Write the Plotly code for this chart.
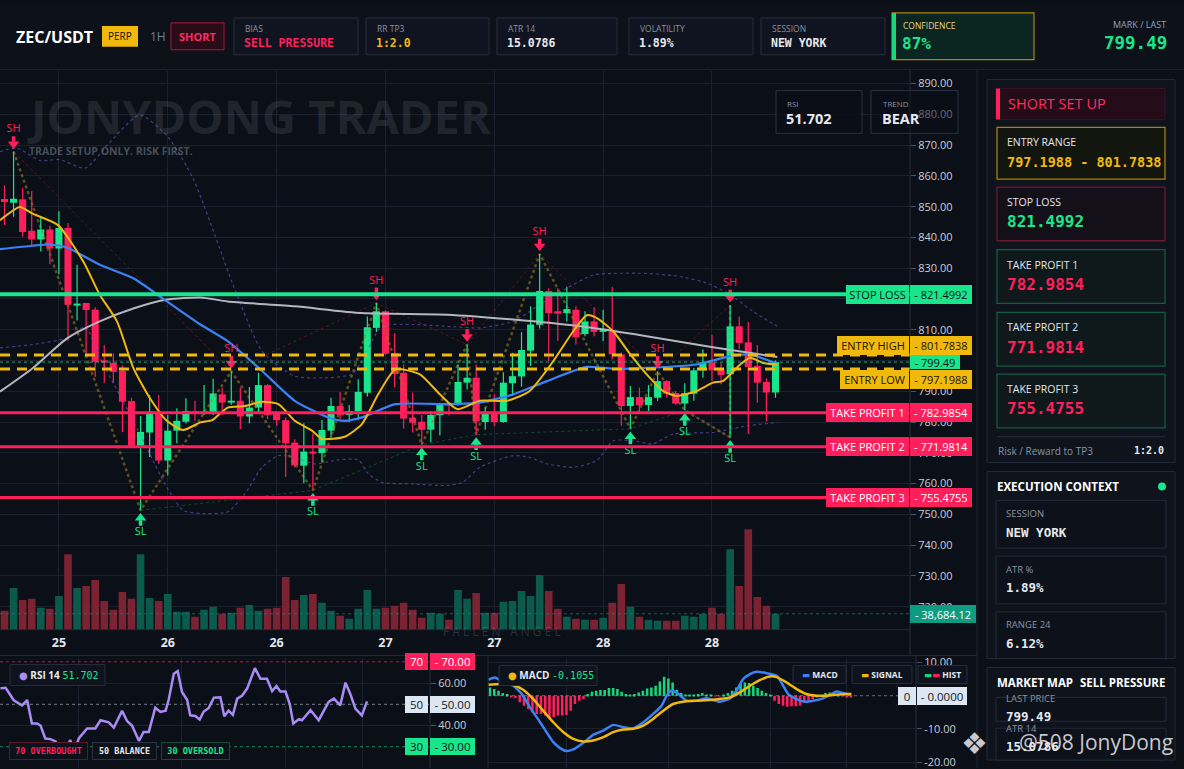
import plotly.graph_objects as go

W, H = 1184, 769

# ---------------- data ----------------
tick_idx = [6, 18, 30, 42, 54, 66, 78]
tick_text = ["25", "26", "26", "27", "27", "28", "28"]
sub_grid = [18, 42, 66, 84]

opens = [852.5, 851.3, 852.4, 842.2, 839.3, 842.6, 836.4, 843.1, 818.0, 818.7,
         816.5, 800.0, 799.2, 796.6, 786.8, 772.3, 776.6, 783.3, 767.5, 777.2,
         780.1, 783.6, 782.8, 782.8, 789.0, 786.3, 786.9, 781.8, 784.7, 792.0,
         782.8, 780.6, 773.3, 765.8, 770.4, 769.9, 777.2, 785.2, 782.3, 783.5,
         789.5, 810.6, 816.0, 802.4, 796.0, 781.4, 780.1, 777.5, 782.2, 786.1,
         785.6, 792.8, 794.4, 780.0, 783.3, 780.0, 792.6, 794.8, 803.2, 811.6,
         822.6, 816.0, 815.4, 816.5, 808.6, 812.7, 809.3, 809.5, 802.0, 785.2,
         788.1, 785.5, 787.9, 793.3, 789.4, 786.0, 789.2, 796.8, 799.4, 796.9,
         795.5, 811.1, 805.9, 798.2, 793.0, 789.6]
highs = [856.9, 867.9, 856.1, 855.1, 846.4, 843.8, 848.5, 844.7, 831.1, 818.7,
         817.3, 805.0, 802.3, 798.4, 787.9, 782.0, 788.8, 788.8, 782.3, 784.5,
         787.7, 786.9, 792.0, 794.1, 791.2, 796.5, 791.2, 791.4, 796.0, 792.3,
         783.1, 781.5, 774.4, 779.6, 776.3, 780.7, 787.9, 789.8, 785.5, 793.9,
         814.3, 818.7, 816.3, 808.9, 798.7, 789.6, 782.3, 783.6, 786.3, 786.3,
         798.7, 805.2, 798.7, 784.7, 789.0, 796.2, 802.5, 809.2, 817.6, 834.6,
         823.5, 823.5, 824.0, 817.6, 816.0, 817.3, 816.5, 824.0, 802.6, 791.7,
         791.2, 792.0, 796.5, 793.6, 790.1, 792.6, 797.6, 803.6, 808.4, 799.2,
         818.0, 814.3, 812.5, 805.0, 794.2, 800.0]
lows = [844.0, 846.7, 840.2, 837.0, 835.4, 831.3, 828.0, 806.5, 813.0, 802.0,
        794.6, 792.8, 792.8, 776.7, 771.8, 751.3, 768.6, 766.4, 762.6, 773.1,
        779.5, 780.4, 782.3, 782.3, 782.3, 785.6, 777.7, 779.6, 782.6, 780.9,
        778.8, 762.1, 765.3, 760.1, 757.8, 767.0, 775.0, 780.9, 779.9, 780.6,
        788.3, 809.3, 801.8, 791.2, 777.9, 776.6, 772.6, 773.4, 775.6, 782.2,
        785.3, 790.6, 775.9, 777.5, 778.6, 779.8, 788.5, 791.5, 798.2, 810.4,
        799.8, 806.3, 812.7, 805.2, 807.9, 807.9, 806.3, 800.3, 778.8, 777.8,
        783.1, 783.6, 786.9, 787.9, 785.6, 783.8, 786.9, 794.4, 793.3, 792.3,
        775.0, 803.6, 776.1, 786.3, 780.2, 787.9]
closes = [851.5, 852.6, 841.8, 839.3, 842.6, 836.4, 843.1, 818.1, 818.5, 816.4,
          799.6, 799.5, 796.3, 786.6, 772.3, 776.8, 783.3, 767.5, 777.2, 780.4,
          783.6, 782.8, 783.1, 789.3, 786.3, 786.9, 781.8, 784.7, 792.0, 782.3,
          780.6, 773.1, 765.9, 770.4, 769.9, 777.4, 785.2, 782.3, 783.6, 789.8,
          810.8, 816.0, 802.2, 795.6, 781.1, 779.8, 777.5, 782.3, 786.0, 785.5,
          793.0, 794.4, 780.2, 783.3, 780.0, 792.8, 794.9, 803.4, 811.7, 822.6,
          815.4, 815.4, 816.7, 807.5, 812.7, 809.3, 810.0, 802.0, 785.2, 788.1,
          785.5, 788.1, 793.3, 789.2, 786.0, 789.4, 796.8, 799.4, 796.8, 795.3,
          811.1, 805.7, 797.9, 792.8, 789.6, 799.49]
volumes = [45900, 101500, 72500, 75000, 53200, 50800, 82200, 183700, 101500, 106400,
           120900, 70100, 48400, 91900, 75000, 183700, 77400, 70100, 87000, 43500,
           43500, 31400, 48400, 55600, 38700, 41100, 53200, 60400, 45900, 50800,
           53200, 128100, 72500, 84600, 87000, 65300, 45900, 33800, 26600, 50800,
           96700, 50800, 53200, 58000, 65300, 48400, 29000, 41100, 38700, 24200,
           96700, 75000, 89500, 41100, 41100, 67700, 70100, 94300, 82200, 133000,
           94300, 50800, 31400, 26600, 24200, 24200, 29000, 65300, 111200, 55600,
           31400, 24200, 21800, 21800, 21800, 33800, 31400, 38700, 53200, 38700,
           195800, 106400, 244200, 79800, 58000, 38684.12]

sh_idx = [1, 25, 41, 51, 59, 72, 80]
sl_idx = [15, 34, 46, 52, 69, 75, 80]

ema_fast_x = [-0.5, 1.7, 3.1, 5.9, 8.7, 10.5, 12.4, 14.2, 16.0, 17.9, 19.7, 21.6, 22.9, 24.6,
              26.5, 28.4, 30.2, 32.0, 33.9, 35.0, 37.5, 39.4, 41.2, 43.1, 45.8, 48.0, 49.9,
              52.4, 55.4, 57.9, 60.5, 62.7, 64.2, 65.3, 67.1, 69.0, 70.8, 72.6, 74.1, 76.3,
              78.1, 79.2, 81.1, 82.2, 83.6, 85.2]
ema_fast = [845.6, 849.9, 847.7, 844.0, 832.1, 821.4, 812.7, 797.6, 787.9, 780.4, 777.4, 779.9,
            780.6, 784.7, 785.2, 786.6, 785.8, 780.4, 777.2, 774.5, 775.2, 779.3, 789.0, 797.1,
            795.5, 789.0, 784.2, 786.9, 786.9, 790.1, 799.8, 809.5, 814.7, 813.8, 809.5, 802.0,
            795.5, 790.1, 788.5, 790.1, 792.8, 793.3, 798.7, 800.9, 799.2, 798.7]
ema_mid_x = [-0.5, 3.1, 5.0, 6.9, 10.5, 14.2, 17.9, 21.6, 24.6, 28.4, 32.0, 35.7, 37.5, 39.4,
             43.1, 48.8, 52.4, 56.1, 59.8, 64.2, 67.1, 70.8, 76.3, 80.0, 82.2, 85.2]
ema_mid = [836.2, 837.3, 837.7, 836.7, 831.1, 826.7, 819.2, 811.7, 806.3, 796.6, 786.9, 781.5,
           780.4, 781.5, 785.8, 785.8, 786.3, 789.0, 793.3, 797.9, 797.3, 797.6, 798.7, 801.4,
           801.9, 798.9]
ma_slow_x = [-0.5, 3.1, 6.9, 10.5, 14.2, 17.9, 21.6, 24.6, 32.0, 39.4, 48.8, 56.1, 63.5, 70.8,
             78.1, 85.2]
ma_slow = [789.9, 797.5, 807.2, 812.7, 816.9, 819.8, 820.5, 819.2, 817.6, 815.4, 814.9, 813.3,
           811.1, 807.9, 804.3, 801.1]
band_up_x = [-0.5, 1.4, 3.9, 6.1, 8.9, 11.6, 14.9, 17.9, 20.8, 25.2, 28.4, 32.0, 35.7, 38.3,
             39.4, 41.6, 45.0, 48.8, 52.4, 56.1, 59.0, 62.0, 64.9, 67.1, 70.8, 74.5, 77.5, 80.0,
             82.5, 85.2]
band_up = [867.9, 869.0, 865.0, 865.3, 862.5, 870.9, 879.8, 873.1, 859.1, 824.6, 803.0, 794.9,
           794.4, 795.5, 799.8, 811.1, 811.7, 811.1, 810.6, 812.7, 818.1, 823.5, 827.8, 828.3,
           828.3, 827.3, 825.1, 821.4, 816.0, 811.1]
band_lo_x = [-0.5, 3.1, 6.9, 8.9, 10.5, 14.2, 16.0, 17.9, 19.7, 21.6, 24.6, 26.5, 28.4, 30.2,
             32.0, 34.2, 36.8, 39.0, 40.1, 41.6, 45.0, 48.8, 50.5, 52.4, 56.1, 57.9, 59.8, 62.7,
             65.3, 67.1, 69.3, 71.5, 73.7, 78.1, 81.9, 85.2]
band_lo = [804.1, 805.2, 807.3, 811.0, 801.0, 780.4, 769.7, 758.7, 751.3, 750.3, 750.8, 756.7,
           765.3, 769.1, 768.5, 766.4, 767.7, 767.7, 763.2, 760.4, 759.9, 759.4, 760.4, 765.3,
           769.1, 768.5, 766.4, 765.3, 767.5, 773.9, 773.9, 772.9, 776.1, 776.6, 778.8, 779.8]

rsi_x = [0.0, 1.2, 3.1, 4.3, 5.0, 6.2, 7.3, 8.5, 9.3, 10.4,
         11.6, 12.8, 14.3, 16.2, 17.0, 18.2, 20.1, 22.0, 23.2, 25.1,
         26.3, 28.2, 29.4, 30.5, 32.1, 33.2, 34.4, 35.9, 37.1, 38.3,
         39.0, 40.2, 41.1, 42.1, 43.3, 44.0, 45.2, 46.2, 47.1, 48.3,
         49.5, 51.0, 51.9, 52.9, 53.9, 54.9, 56.0, 57.2, 59.0, 60.3,
         61.8, 63.0, 64.0, 64.9, 66.1, 67.1, 67.9, 69.2, 69.9, 71.9,
         73.8, 76.1, 77.3, 78.8, 80.0, 81.1, 82.3, 83.8, 85.0]
rsi_vals = [57.6, 57.8, 51.9, 50.4, 49.5, 52.0, 41.0, 41.0, 40.0, 33.9,
            33.6, 32.5, 25.6, 33.1, 27.7, 34.0, 38.6, 38.6, 42.5, 41.5,
            39.0, 46.9, 42.0, 40.0, 32.8, 37.0, 37.0, 48.4, 46.4, 47.0,
            52.0, 64.4, 65.6, 55.8, 52.0, 44.8, 44.5, 42.8, 46.5, 48.3,
            53.1, 53.3, 44.4, 47.0, 45.0, 52.7, 54.0, 57.4, 67.0, 62.0,
            62.0, 56.2, 58.6, 56.0, 56.0, 50.0, 41.0, 43.0, 42.5, 47.2,
            42.5, 51.1, 52.7, 49.5, 60.2, 55.0, 48.0, 44.8, 51.4]

macd_x = [-0.4, 1.2, 3.1, 5.5, 7.5, 9.4, 11.8, 13.3, 14.9, 16.5, 18.0, 19.6, 22.0, 24.3, 26.7,
          29.0, 31.4, 33.7, 36.1, 38.4, 40.4, 41.6, 42.7, 43.9, 46.3, 48.6, 51.0, 54.1, 56.5,
          58.0, 59.6, 61.2, 62.7, 65.1, 67.5, 68.6, 70.2, 72.2, 74.1, 76.1, 78.4, 80.0, 81.6,
          83.1, 84.7]
macd_vals = [4.8, 5.5, 4.0, 3.0, 0.5, -3.5, -8.0, -11.0, -14.0, -15.8, -16.7, -16.2, -14.2,
             -11.8, -10.5, -8.8, -9.5, -9.8, -8.0, -5.5, -3.0, 0.0, 1.5, 1.0, -1.5, -1.5, -0.8,
             -1.8, -0.8, 1.5, 5.0, 6.5, 7.2, 6.8, 6.0, 4.0, 0.5, -1.0, -1.8, -1.5, -0.8, 0.2,
             1.3, 0.8, 0.3]
signal_x = [-0.4, 2.4, 5.5, 7.8, 10.2, 12.5, 14.9, 17.3, 19.6, 22.0, 24.3, 26.7, 29.0, 31.4,
            33.7, 36.1, 38.4, 40.8, 43.1, 45.5, 48.6, 52.5, 56.5, 58.8, 61.2, 63.5, 65.9, 67.5,
            69.8, 72.2, 74.5, 76.9, 79.2, 81.6, 83.9, 85.1]
signal_vals = [3.3, 3.5, 3.2, 1.8, -1.0, -4.5, -8.0, -11.0, -13.0, -13.8, -13.5, -12.5, -11.0,
               -10.2, -10.0, -9.0, -7.0, -4.5, -2.5, -1.8, -1.5, -1.2, -0.5, 1.0, 3.0, 4.7, 5.8,
               5.6, 4.0, 2.0, 0.5, 0.0, 0.0, 0.3, 0.5, 0.5]
hist_vals = [2.5, 2.0, 1.5, 0.8, 0.5, -0.5, -0.8, -2.0, -3.0, -4.0,
             -5.0, -5.5, -5.5, -6.0, -7.0, -6.5, -6.0, -6.0, -5.8, -4.5,
             -2.5, -1.5, -1.0, 0.5, 1.2, 1.5, 1.7, 1.7, 2.3, 2.3,
             2.0, 1.2, 0.5, 0.3, 0.5, 1.0, 1.5, 2.2, 2.5, 3.0,
             4.3, 5.7, 5.2, 4.0, 1.8, 0.8, 0.3, 0.3, 0.3, 0.5,
             0.8, 0.3, 0.2, -0.2, -0.2, 0.2, 0.8, 1.5, 2.5, 3.7,
             4.0, 3.8, 3.0, 2.3, 1.5, 0.8, 0.1, -1.5, -2.5, -3.0,
             -3.3, -3.2, -3.2, -3.0, -2.0, -1.5, -1.0, -0.5, -0.1, 0.8,
             1.0, 0.8, 0.5, -0.2, -0.3, -0.4]

stop_loss = 821.4992
entry_high = 801.7838
entry_low = 797.1988
last_price = 799.49
tp1, tp2, tp3 = 782.9854, 771.9814, 755.4755

# ---------------- style ----------------
BG = "#0b0f17"
GRID = "#1b212e"
UP = "#19e68c"
DN = "#ff1f5b"
YEL = "#f0b90b"
BLUE = "#3b82f6"
GREY = "#b4b7c0"
VOL_UP = "#0c5a4c"
VOL_DN = "#7b2332"
TXT = "#e6e9ef"
MUTED = "#8a93a5"
SANS = "Open Sans, Roboto, DejaVu Sans, sans-serif"
MONO = "DejaVu Sans Mono, Liberation Mono, monospace"

fig = go.Figure()


def px(x):
    return x / W


def py(y):
    return 1 - y / H


def box(x0, y0, x1, y1, fill, line=None, width=1):
    fig.add_shape(type="rect", xref="paper", yref="paper", x0=px(x0), x1=px(x1),
                  y0=py(y1), y1=py(y0), fillcolor=fill,
                  line=dict(color=line or fill, width=width if line else 0))


def seg(x0, y0, x1, y1, color, width=1):
    fig.add_shape(type="line", xref="paper", yref="paper", x0=px(x0), x1=px(x1),
                  y0=py(y0), y1=py(y1), line=dict(color=color, width=width))


def txt(x, y, s, size=11, color=TXT, anchor="left", family=SANS):
    fig.add_annotation(xref="paper", yref="paper", x=px(x), y=py(y), text=s, showarrow=False,
                       xanchor=anchor, yanchor="middle",
                       font=dict(size=size, color=color, family=family))


def tag(x, y, s, w, bg, fg, yref="paper", yshift=0, anchor="left", size=11,
        family=SANS, h=15, border=None):
    fig.add_annotation(xref="paper", x=px(x), yref=yref, y=py(y) if yref == "paper" else y,
                       yshift=yshift, text=s, showarrow=False, xanchor=anchor, yanchor="middle",
                       width=w, height=h, bgcolor=bg, bordercolor=border or bg,
                       borderwidth=1 if border else 0, borderpad=1.5, align="center",
                       font=dict(size=size, color=fg, family=family))


idx = list(range(len(closes)))
up = [c >= o for o, c in zip(opens, closes)]

# volume
fig.add_trace(go.Bar(x=idx, y=volumes, width=0.84, yaxis="y2", xaxis="x",
                     marker=dict(color=[VOL_UP if u else VOL_DN for u in up], line_width=0)))

# bands
for xs, ys in ((band_up_x, band_up), (band_lo_x, band_lo)):
    fig.add_trace(go.Scatter(x=xs, y=ys, mode="lines",
                             line=dict(color="rgba(105,85,200,0.65)", width=1.2, dash="dot",
                                       shape="spline", smoothing=0.6)))

# swing structure
piv = sorted([(k, highs[k], 0) for k in sh_idx] + [(k, lows[k], 1) for k in sl_idx])
fig.add_trace(go.Scatter(x=[p[0] for p in piv], y=[p[1] for p in piv], mode="lines",
                         line=dict(color="rgba(150,125,30,0.6)", width=2.5, dash="dot")))
fig.add_trace(go.Scatter(x=sh_idx, y=[highs[k] for k in sh_idx], mode="lines",
                         line=dict(color="rgba(170,30,60,0.5)", width=1, dash="dot")))
fig.add_trace(go.Scatter(x=sl_idx, y=[lows[k] for k in sl_idx], mode="lines",
                         line=dict(color="rgba(20,120,80,0.55)", width=1, dash="dot")))

# candles
for flag, col in ((True, UP), (False, DN)):
    wx, wy = [], []
    for k in idx:
        if up[k] == flag:
            wx += [k, k, None]
            wy += [lows[k], highs[k], None]
    fig.add_trace(go.Scatter(x=wx, y=wy, mode="lines", line=dict(color=col, width=1.2)))
fig.add_trace(go.Bar(x=idx, y=[max(abs(c - o), 0.35) for o, c in zip(opens, closes)],
                     base=[min(o, c) for o, c in zip(opens, closes)], width=0.78,
                     marker=dict(color=[UP if u else DN for u in up], line_width=0)))

# moving averages
fig.add_trace(go.Scatter(x=ma_slow_x, y=ma_slow, mode="lines",
                         line=dict(color=GREY, width=2, shape="spline", smoothing=0.6)))
fig.add_trace(go.Scatter(x=ema_mid_x, y=ema_mid, mode="lines",
                         line=dict(color=BLUE, width=2.2, shape="spline", smoothing=0.6)))
fig.add_trace(go.Scatter(x=ema_fast_x, y=ema_fast, mode="lines",
                         line=dict(color=YEL, width=2, shape="spline", smoothing=0.6)))

# swing markers
for ks, ys, sgn, col, lab, sym in ((sh_idx, [highs[k] for k in sh_idx], 1, DN, "SH", "triangle-down"),
                                   (sl_idx, [lows[k] for k in sl_idx], -1, UP, "SL", "triangle-up")):
    fig.add_trace(go.Scatter(x=ks, y=[v + sgn * 2.5 for v in ys], mode="markers",
                             marker=dict(symbol=sym, size=10, color=col, line_width=0)))
    sx, sy = [], []
    for k, v in zip(ks, ys):
        sx += [k, k, None]
        sy += [v + sgn * 3.2, v + sgn * 5.0, None]
    fig.add_trace(go.Scatter(x=sx, y=sy, mode="lines", line=dict(color=col, width=3.5)))
    fig.add_trace(go.Scatter(x=ks, y=[v + sgn * 7.2 for v in ys], mode="text", text=[lab] * len(ks),
                             textfont=dict(color=col, size=11, family=SANS)))

# RSI
fig.add_trace(go.Scatter(x=rsi_x, y=rsi_vals, xaxis="x2", yaxis="y3", mode="lines",
                         line=dict(color="#a98bf5", width=2.5)))

# MACD
fig.add_trace(go.Bar(x=list(range(len(hist_vals))), y=hist_vals, xaxis="x3", yaxis="y4", width=0.6,
                     marker=dict(color=["#16d67a" if v >= 0 else DN for v in hist_vals], line_width=0)))
fig.add_trace(go.Scatter(x=macd_x, y=macd_vals, xaxis="x3", yaxis="y4", mode="lines",
                         line=dict(color=BLUE, width=2.5, shape="spline", smoothing=0.5)))
fig.add_trace(go.Scatter(x=signal_x, y=signal_vals, xaxis="x3", yaxis="y4", mode="lines",
                         line=dict(color=YEL, width=2.5, shape="spline", smoothing=0.5)))

axis_font = dict(color="#c9ced8", size=11, family=SANS)
fig.update_layout(
    width=W, height=H, margin=dict(l=0, r=0, t=0, b=0), autosize=False,
    paper_bgcolor=BG, plot_bgcolor="rgba(0,0,0,0)", showlegend=False,
    barmode="overlay", hovermode=False,
    xaxis=dict(domain=[0, 910 / W], range=[-0.496, 99.83], tickvals=tick_idx,
               ticktext=["<b>%s</b>" % t for t in tick_text], showgrid=True, gridcolor=GRID,
               zeroline=False, ticks="", anchor="y", ticklabelstandoff=4,
               tickfont=dict(color="#e3e7ee", size=12.5, family=SANS)),
    yaxis=dict(domain=[1 - 630 / H, 1 - 68 / H], range=[712.5, 894.2], side="right", dtick=10,
               tick0=0, tickformat=".2f", gridcolor=GRID, zeroline=False, ticks="outside",
               ticklen=5, tickcolor="#4a5263", tickfont=axis_font, anchor="x"),
    yaxis2=dict(overlaying="y", range=[0, 1358800], visible=False, anchor="x"),
    xaxis2=dict(domain=[0, 430 / W], range=[-0.1, 99.6], tickvals=sub_grid, showticklabels=False,
                gridcolor=GRID, zeroline=False, anchor="y3"),
    yaxis3=dict(domain=[0, 1 - 658 / H], range=[20, 72], side="right", tickvals=[40, 60],
                ticktext=["40.00", "60.00"], gridcolor=GRID, zeroline=False, ticks="outside",
                ticklen=5, tickcolor="#4a5263", tickfont=axis_font, anchor="x2"),
    xaxis3=dict(domain=[488 / W, 916 / W], range=[-0.47, 100.3], tickvals=sub_grid,
                showticklabels=False, gridcolor=GRID, zeroline=False, anchor="y4"),
    yaxis4=dict(domain=[0, 1 - 658 / H], range=[-21.8, 11.5], side="right",
                tickvals=[10, -10, -20], ticktext=["10.00", "-10.00", "-20.00"], gridcolor=GRID,
                zeroline=False, ticks="outside", ticklen=5, tickcolor="#4a5263",
                tickfont=axis_font, anchor="x3", ticklabeloverflow="allow"),
)

# ---------------- level lines ----------------
def level(v, color, width, dash="solid", yref="y"):
    fig.add_shape(type="line", xref="x domain", x0=0, x1=1, yref=yref, y0=v, y1=v,
                  line=dict(color=color, width=width, dash=dash))


level(stop_loss, UP, 4)
level(entry_high, YEL, 3, "10px,7px")
level(entry_low, YEL, 3, "10px,7px")
level(last_price, "rgba(25,230,140,0.75)", 1, "dot")
for v in (tp1, tp2, tp3):
    level(v, DN, 3)
level(volumes[-1], "rgba(14,155,130,0.6)", 1, "dot", yref="y2")

for name, v, bg, fg, ys, w in (("STOP LOSS", stop_loss, UP, "#06160f", 0, 60),
                               ("ENTRY HIGH", entry_high, YEL, "#1a1300", 10, 69),
                               ("ENTRY LOW", entry_low, YEL, "#1a1300", -10.5, 66),
                               ("TAKE PROFIT 1", tp1, DN, "#ffffff", 0, 80),
                               ("TAKE PROFIT 2", tp2, DN, "#ffffff", 0, 80),
                               ("TAKE PROFIT 3", tp3, DN, "#ffffff", 0, 80)):
    tag(908.5, v, name, w, bg, fg, yref="y", yshift=ys, anchor="right", h=16)
    tag(910, v, "- %.4f" % v, 59, bg, fg, yref="y", yshift=ys, h=16)
tag(910, last_price, "- %.2f" % last_price, 47, UP, "#06160f", yref="y", h=11, size=11)
tag(910, volumes[-1], "- {:,.2f}".format(volumes[-1]), 63, "#0e9b82", "#ffffff", yref="y2", h=15)

# RSI guide lines and badges
for lv, col in ((70, "rgba(255,31,91,0.7)"), (50, "rgba(160,170,185,0.7)"), (30, "rgba(25,230,140,0.6)")):
    fig.add_shape(type="line", xref="x2 domain", x0=0, x1=1, yref="y3", y0=lv, y1=lv,
                  line=dict(color=col, width=1, dash="dot"))
for lv, bg, fg in ((70, DN, "#ffffff"), (50, "#dde7f3", "#111826"), (30, UP, "#06160f")):
    tag(405, lv, str(lv), 20, bg, fg, yref="y3", h=14, size=11.5)
    tag(430, lv, "- %.2f" % lv, 42, bg, fg, yref="y3", h=14, size=11.5)
fig.add_shape(type="line", xref="x3 domain", x0=0, x1=1, yref="y4", y0=0, y1=0,
              line=dict(color="rgba(160,170,185,0.6)", width=1, dash="dot"))
tag(898, 0, "0", 15, "#dde7f3", "#111826", yref="y4", h=15, size=11.5)
tag(917, 0, "- 0.0000", 47, "#dde7f3", "#111826", yref="y4", h=15, size=11.5)

# ---------------- frame lines ----------------
seg(0, 630, 910, 630, "#232a39")
seg(910, 68, 910, 656, "#2a3142")
seg(0, 656, 977, 656, "#232a39")
seg(977, 68, 977, 769, "#1f2634")
seg(430, 656, 430, 769, "#2a3142")
seg(488, 656, 488, 769, "#232a39")
seg(916, 656, 916, 769, "#2a3142")

# ---------------- main chart overlays ----------------
txt(25, 114, "<b>JONYDONG TRADER</b>", 47, "rgba(140,150,170,0.17)")
txt(27, 149, "<b>TRADE SETUP ONLY. RISK FIRST.</b>", 10.5, "rgba(150,160,178,0.45)")
txt(502, 632, "F A L L E N   A N G E L", 12, "rgba(130,140,160,0.28)", anchor="center")

box(776, 88, 862, 131, "rgba(11,15,23,0.88)", "#2a3243")
txt(785, 101, "RSI", 8, MUTED)
txt(784, 116, "<b>51.702</b>", 14.5, TXT)
box(871, 88, 958, 131, "rgba(11,15,23,0.55)", "#2a3243")
txt(881, 101, "TREND", 8, MUTED)
txt(880, 116, "<b>BEAR</b>", 14.5, TXT)

# RSI legend and badges
box(10, 665, 105, 686, "#0e131d", "#262e3d")
txt(17, 675.5, "<span style='color:#a98bf5'>●</span> <b>RSI 14</b> "
    "<span style='color:#19e68c;font-family:DejaVu Sans Mono'>51.702</span>", 10, TXT)
for cx, w, s, col, bd in ((48.5, 74, "70 OVERBOUGHT", DN, "#5c1629"),
                          (124.5, 60, "50 BALANCE", TXT, "#2b3242"),
                          (195.5, 64, "30 OVERSOLD", UP, "#0f4d36")):
    tag(cx, 751.5, "<b>%s</b>" % s, w, "#0d1119", col, anchor="center", size=8.5,
        family=MONO, h=13, border=bd)

# MACD legend boxes
box(499, 666, 597, 686, "#0e131d", "#262e3d")
txt(506, 676, "<span style='color:#f0b90b'>●</span> <b>MACD</b> "
    "<span style='color:#19e68c;font-family:DejaVu Sans Mono'>-0.1055</span>", 10, TXT)
for x0, x1, s in ((793, 846, "<span style='color:#3b82f6'>▬</span> <b>MACD</b>"),
                  (852, 912, "<span style='color:#f0b90b'>▬</span> <b>SIGNAL</b>"),
                  (918, 967, "<span style='color:#16d67a'>▬</span><span style='color:#ff1f5b'>▬</span> <b>HIST</b>")):
    box(x0, 666, x1, 684, "#0e131d", "#262e3d")
    txt((x0 + x1) / 2, 675, s, 8.5, TXT, anchor="center")

# ---------------- header ----------------
box(0, 0, W, 67, "#0d1119")
seg(0, 67, W, 67, "#1f2634")
txt(14, 34, "<b>ZEC/USDT</b>", 16, "#ffffff")
box(102, 23, 138, 44, YEL)
txt(120, 33.5, "PERP", 10, "#1a1300", anchor="center")
txt(148, 34, "1H", 12, "#6f7f9c")
box(171, 20, 224, 47, "#2a0c18", "#b3123c")
txt(197.5, 33.5, "<b>SHORT</b>", 11, "#ff2a63", anchor="center")
for x0, x1, lab, val, col in ((234, 358, "BIAS", "SELL PRESSURE", DN),
                              (366, 489, "RR TP3", "1:2.0", YEL),
                              (497, 617, "ATR 14", "15.0786", TXT),
                              (629, 753, "VOLATILITY", "1.89%", TXT),
                              (761, 885, "SESSION", "NEW YORK", TXT)):
    box(x0, 15, x1, 52, "#0f1420", "#262d3c")
    txt(x0 + 9, 26, lab, 8.5, MUTED)
    txt(x0 + 8, 40, "<b>%s</b>" % val, 11.5, col, family=MONO)
box(892, 10, 1034, 57, "#0b2520", "#a8850f", 1.2)
box(892, 10, 896, 57, "#19d97c")
txt(901, 23, "CONFIDENCE", 8.5, "#e9d88a")
txt(900, 41, "<b>87%</b>", 16, UP, family=MONO)
txt(1168, 22, "MARK / LAST", 9, "#8ea1c4", anchor="right")
txt(1169, 40, "<b>799.49</b>", 17.5, UP, anchor="right", family=MONO)

# ---------------- sidebar ----------------
box(987, 77, 1175, 462, "#0e131c", "#232b3b")
box(996, 86, 1165, 117, "#240c18", "#3a1426")
box(996, 86, 1000, 117, DN)
txt(1006, 101.5, "SHORT SET UP", 14.5, "#ff2e63")
cards = (("ENTRY RANGE", "797.1988 - 801.7838", 125, 177, "#13150f", "#a3830f", YEL, 13.5),
         ("STOP LOSS", "821.4992", 185, 239, "#141019", "#6b1a33", UP, 16),
         ("TAKE PROFIT 1", "782.9854", 248, 302, "#0f181b", "#155c43", DN, 16),
         ("TAKE PROFIT 2", "771.9814", 311, 365, "#0f181b", "#155c43", DN, 16),
         ("TAKE PROFIT 3", "755.4755", 373, 427, "#0f181b", "#155c43", DN, 16))
for lab, val, y0, y1, fill, line, col, sz in cards:
    box(997, y0, 1165, y1, fill, line, 1.3)
    txt(1005, y0 + 15, lab, 10.5, "#e3e6ec")
    txt(1005, y0 + 35, "<b>%s</b>" % val, sz, col, family=MONO)
seg(997, 436, 1165, 436, "#262d3c")
txt(996, 450, "Risk / Reward to TP3", 10, MUTED)
txt(1166, 450, "<b>1:2.0</b>", 10, TXT, anchor="right", family=MONO)

box(987, 471, 1175, 659, "#0e131c", "#232b3b")
txt(995, 486, "<b>EXECUTION CONTEXT</b>", 11.5, "#ffffff")
fig.add_shape(type="circle", xref="paper", yref="paper", x0=px(1158), x1=px(1166),
              y0=py(490), y1=py(482), fillcolor=UP, line_width=0)
for lab, val, y0, y1 in (("SESSION", "NEW YORK", 500, 548), ("ATR %", "1.89%", 556, 604),
                         ("RANGE 24", "6.12%", 612, 659)):
    box(996, y0, 1166, y1, "#0d1119", "#232b3b")
    txt(1004, y0 + 13, lab, 9.5, MUTED)
    txt(1004, y0 + 32, "<b>%s</b>" % val, 12.5, TXT, family=MONO)

box(987, 668, 1175, 761, "#0e131c", "#232b3b")
txt(995, 683, "<b>MARKET MAP</b>", 11.5, "#ffffff")
txt(1167, 683, "<b>SELL PRESSURE</b>", 11.5, "#ffffff", anchor="right")
box(996, 698, 1166, 722, "#0d1119", "#232b3b")
txt(1004, 699, "LAST PRICE", 9.5, MUTED)
txt(1004, 717, "<b>799.49</b>", 12.5, TXT, family=MONO)
box(996, 729, 1166, 761, "#0d1119", "#232b3b")
txt(1004, 729, "ATR 14", 9.5, MUTED)
txt(1004, 747, "<b>15.0786</b>", 12.5, TXT, family=MONO)

# watermark
txt(974, 743, "❖", 30, "rgba(235,235,240,0.85)", anchor="center")
txt(1175, 743, "@508 JonyDong", 21, "rgba(235,235,240,0.85)", anchor="right")

fig.write_html("out.html", config={"displayModeBar": False},
               post_script="document.body.style.margin='0';document.body.style.overflow='hidden';")
